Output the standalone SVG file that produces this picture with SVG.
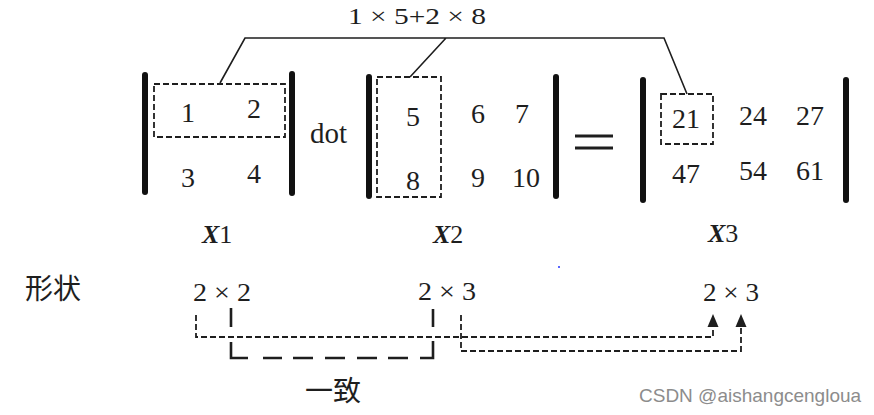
<svg xmlns="http://www.w3.org/2000/svg" width="874" height="415" viewBox="0 0 874 415">
<style>
text{font-family:'Liberation Serif','Tinos','DejaVu Serif','Noto Serif',serif;fill:#1e1e1e}
.n{font-size:28px;text-anchor:middle}
.lbl{font-size:26px}
.top{font-size:24px}
.dot{font-size:29px}
.cjk{font-family:'Noto Sans CJK SC','Noto Sans CJK JP',sans-serif;font-size:28px}
.wm{font-family:'Liberation Sans',Arial,sans-serif;font-size:19px;fill:#8c8c8c}
.bar{stroke:#111;stroke-width:6;stroke-linecap:round;fill:none}
.dr{fill:none;stroke:#1e1e1e;stroke-width:1.8;stroke-dasharray:6 3}
.ld{fill:none;stroke:#1e1e1e;stroke-width:1.6}
.dc{fill:none;stroke:#1e1e1e;stroke-width:1.8;stroke-dasharray:6 3}
.sb{fill:none;stroke:#1e1e1e;stroke-width:2.6}
</style>
<rect width="874" height="415" fill="#ffffff"/>
<text x="348" y="24" class="top" textLength="138" lengthAdjust="spacingAndGlyphs">1 × 5+2 × 8</text>

<g id="X1">
<line class="bar" x1="145" y1="75" x2="145" y2="192"/>
<line class="bar" x1="292" y1="74" x2="292" y2="193"/>
<rect class="dr" x="154" y="84" width="131" height="53"/>
<text class="n" x="188" y="122">1</text>
<text class="n" x="254" y="118">2</text>
<text class="n" x="188" y="187">3</text>
<text class="n" x="254" y="183">4</text>
<text x="202" y="243" class="lbl"><tspan font-weight="bold" font-style="italic">X</tspan>1</text>
</g>

<g id="dot"><text x="310" y="143" class="dot">dot</text></g>

<g id="X2">
<line class="bar" x1="369" y1="77" x2="369" y2="196"/>
<line class="bar" x1="556" y1="77" x2="556" y2="196"/>
<rect class="dr" x="377" y="77" width="64" height="120"/>
<text class="n" x="413" y="126">5</text>
<text class="n" x="413" y="190">8</text>
<text class="n" x="478" y="123">6</text>
<text class="n" x="522" y="123">7</text>
<text class="n" x="478" y="187">9</text>
<text class="n" x="526" y="187">10</text>
<text x="433" y="243" class="lbl"><tspan font-weight="bold" font-style="italic">X</tspan>2</text>
</g>

<g id="eq">
<line x1="575" y1="136" x2="613" y2="136" stroke="#1e1e1e" stroke-width="3"/>
<line x1="575" y1="148" x2="613" y2="148" stroke="#1e1e1e" stroke-width="3"/>
</g>

<g id="X3">
<line class="bar" x1="643" y1="80" x2="643" y2="200"/>
<line class="bar" x1="846" y1="80" x2="846" y2="200"/>
<rect class="dr" x="661" y="94" width="52" height="50"/>
<text class="n" x="686" y="128">21</text>
<text class="n" x="753" y="125">24</text>
<text class="n" x="810" y="125">27</text>
<text class="n" x="686" y="183">47</text>
<text class="n" x="753" y="180">54</text>
<text class="n" x="810" y="180">61</text>
<text x="708" y="242" class="lbl"><tspan font-weight="bold" font-style="italic">X</tspan>3</text>
</g>

<g id="shapes">
<text x="25" y="299" class="cjk">形状</text>
<text x="193" y="301" class="lbl" textLength="58" lengthAdjust="spacingAndGlyphs">2 × 2</text>
<text x="418" y="300" class="lbl" textLength="58" lengthAdjust="spacingAndGlyphs">2 × 3</text>
<text x="703" y="301" class="lbl" textLength="56" lengthAdjust="spacingAndGlyphs">2 × 3</text>
<text x="305" y="401" class="cjk">一致</text>
</g>

<g id="connectors">
<path class="ld" d="M220,83 L245,38 H664 L687,94 M446,38 L410,77"/>
<path class="dc" d="M196,315 V337 H713 V327"/>
<path class="dc" d="M461,315 V351 H741 V327"/>
<polygon points="713,314 707.5,327 718.5,327" fill="#1e1e1e"/>
<polygon points="741,314 735.5,327 746.5,327" fill="#1e1e1e"/>
<path class="sb" d="M231,308 V327 M231,342 V358 H248 M263,358 H282 M293,358 H313 M325,358 H345 M357,358 H377 M388,358 H408 M420,358 H433 V341 M433,327 V309"/>
</g>

<circle cx="559" cy="267" r="1" fill="#2233ff"/>
<text x="639" y="402" class="wm">CSDN @aishangcengloua</text>
</svg>
